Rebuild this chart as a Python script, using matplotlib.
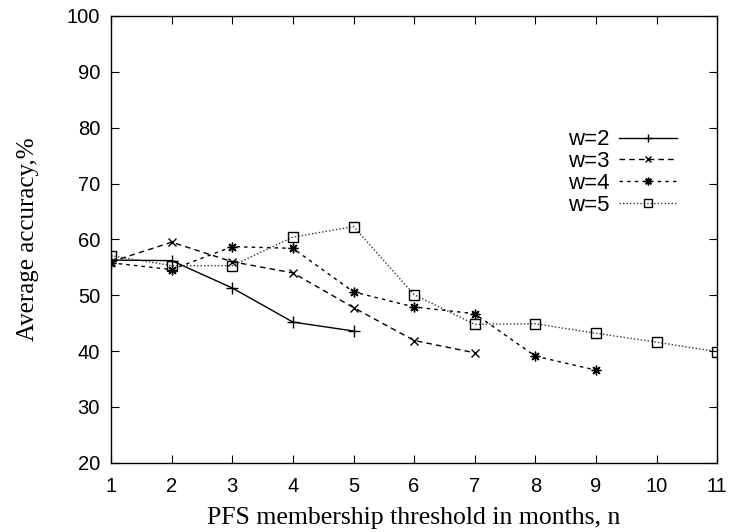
import numpy as np
import matplotlib
matplotlib.use("Agg")
import matplotlib.pyplot as plt

# average accuracy (%) per PFS membership threshold n, for window sizes w
n_w2 = [1, 2, 3, 4, 5]
acc_w2 = [56.3, 56.2, 51.3, 45.2, 43.6]

n_w3 = [1, 2, 3, 4, 5, 6, 7]
acc_w3 = [56.0, 59.5, 56.0, 54.0, 47.8, 41.9, 39.7]

n_w4 = [1, 2, 3, 4, 5, 6, 7, 8, 9]
acc_w4 = [55.8, 54.6, 58.7, 58.4, 50.6, 47.9, 46.7, 39.1, 36.6]

n_w5 = [1, 2, 3, 4, 5, 6, 7, 8, 9, 10, 11]
acc_w5 = [57.1, 55.3, 55.3, 60.4, 62.3, 50.1, 44.8, 44.9, 43.2, 41.6, 39.9]

xticks = np.arange(1, 12, 1)
yticks = np.arange(20, 101, 10)

plt.rcParams['font.family'] = ['Liberation Sans', 'DejaVu Sans']

fig = plt.figure(figsize=(7.31, 5.32), dpi=100)
ax = fig.add_axes([0.152, 0.130, 0.829, 0.840])

lw = 1.0
ax.plot(n_w2, acc_w2, color='black', lw=lw, ls='-', marker='+', ms=8, mew=1.0, label='w=2')
ax.plot(n_w3, acc_w3, color='black', lw=lw, ls=(0, (4, 3)), marker='x', ms=6, mew=1.0, label='w=3')
ax.plot(n_w4, acc_w4, color='black', lw=lw, ls=(0, (2.5, 3)), marker=(8, 2, 0), ms=7, mew=1.0, label='w=4')
ax.plot(n_w5, acc_w5, color='#333333', lw=lw, ls=(0, (1, 1.5)), marker='s', ms=7, mew=1.0,
        mfc='none', mec='black', label='w=5')

ax.set_xlim(1, 11)
ax.set_ylim(20, 100)
ax.set_xticks(xticks)
ax.set_yticks(yticks)
ax.tick_params(direction='in', length=6, width=0.8, top=True, right=True, labelsize=14.5)
ax.tick_params(axis='x', pad=10)
ax.tick_params(axis='y', pad=8)
for s in ax.spines.values():
    s.set_linewidth(1.0)

ax.set_xlabel('PFS membership threshold in months, n', family=['Liberation Serif'], fontsize=18.5, labelpad=8)
ax.set_ylabel('Average accuracy,%', family=['Liberation Serif'], fontsize=18, labelpad=20)

leg = ax.legend(loc='upper right', bbox_to_anchor=(0.967, 0.791), frameon=False, markerfirst=False,
                fontsize=16, handlelength=2.6, handletextpad=0.45, labelspacing=0.04, numpoints=1)
for h in leg.legend_handles:
    h.set_markersize(h.get_markersize() * 0.8)

fig.savefig('out.png', dpi=100)
